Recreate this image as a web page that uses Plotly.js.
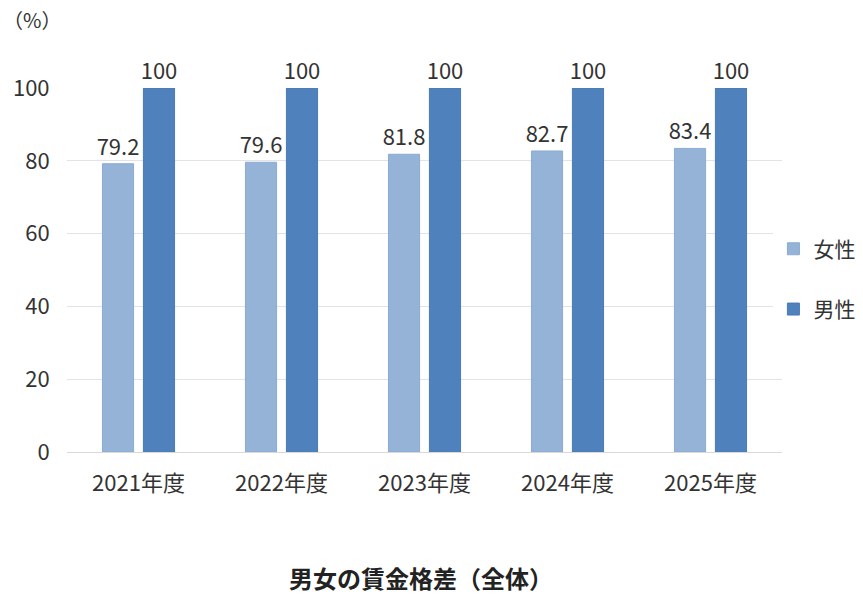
<!DOCTYPE html>
<html><head><meta charset="utf-8">
<script src="https://cdn.plot.ly/plotly-3.0.1.min.js"></script>
<style>body{margin:0;background:#fff}#c{width:863px;height:600px}</style>
</head><body><div id="c"></div>
<script>
var categories = ['2021年度','2022年度','2023年度','2024年度','2025年度'];
var female = [79.2, 79.6, 81.8, 82.7, 83.4];
var male = [100, 100, 100, 100, 100];
var seriesNames = ['女性','男性'];
var yTicks = [0,20,40,60,80,100];
var F = '"Noto Sans CJK JP", "Noto Sans", sans-serif';
var traces = [
 {type:'bar', x:categories, y:female, name:seriesNames[0], legendgroup:'a',
  marker:{color:'#95B3D7', line:{color:'#8BABD3', width:1}},
  text:female.map(function(v){return v.toFixed(1);}), textposition:'outside', cliponaxis:false, constraintext:'none',
  textfont:{size:22, color:'#333', family:F}},
 {type:'bar', x:categories, y:male, name:seriesNames[1], legendgroup:'b',
  marker:{color:'#4F81BD', line:{color:'#4A7AB5', width:1}},
  text:male.map(String), textposition:'outside', cliponaxis:false, constraintext:'none',
  textfont:{size:22, color:'#333', family:F}}
];
var layout = {
 width:863, height:600,
 margin:{l:67, r:81, t:88, b:148, autoexpand:false},
 paper_bgcolor:'#fff', plot_bgcolor:'#fff',
 font:{family:F, color:'#333', size:22},
 barmode:'group', bargap:0.427, bargroupgap:0.24,
 xaxis:{tickfont:{size:22, color:'#333'}, showline:true, linecolor:'#d9d9d9', ticks:'outside', ticklen:12, tickcolor:'rgba(0,0,0,0)'},
 yaxis:{range:[0,100], tickvals:yTicks, tickfont:{size:22,color:'#333'}, gridcolor:'#e3e3e3', zeroline:false, ticks:'outside', ticklen:12, tickcolor:'rgba(0,0,0,0)'},
 legend:{x:0.988, y:0.475, xanchor:'left', yanchor:'middle', font:{size:21, color:'#333'}, traceorder:'grouped', tracegroupgap:30},
 showlegend:true,
 annotations:[
  {text:'（%）', xref:'paper', yref:'paper', x:-0.092, y:1.187, xanchor:'left', yanchor:'middle', showarrow:false, font:{size:20, color:'#333'}},
  {text:'<b>男女の賃金格差（全体）</b>', xref:'paper', yref:'paper', x:0.495, y:-0.346, xanchor:'center', yanchor:'middle', showarrow:false, font:{size:24, color:'#222'}}
 ]
};
Plotly.newPlot('c', traces, layout, {displayModeBar:false});
</script></body></html>
